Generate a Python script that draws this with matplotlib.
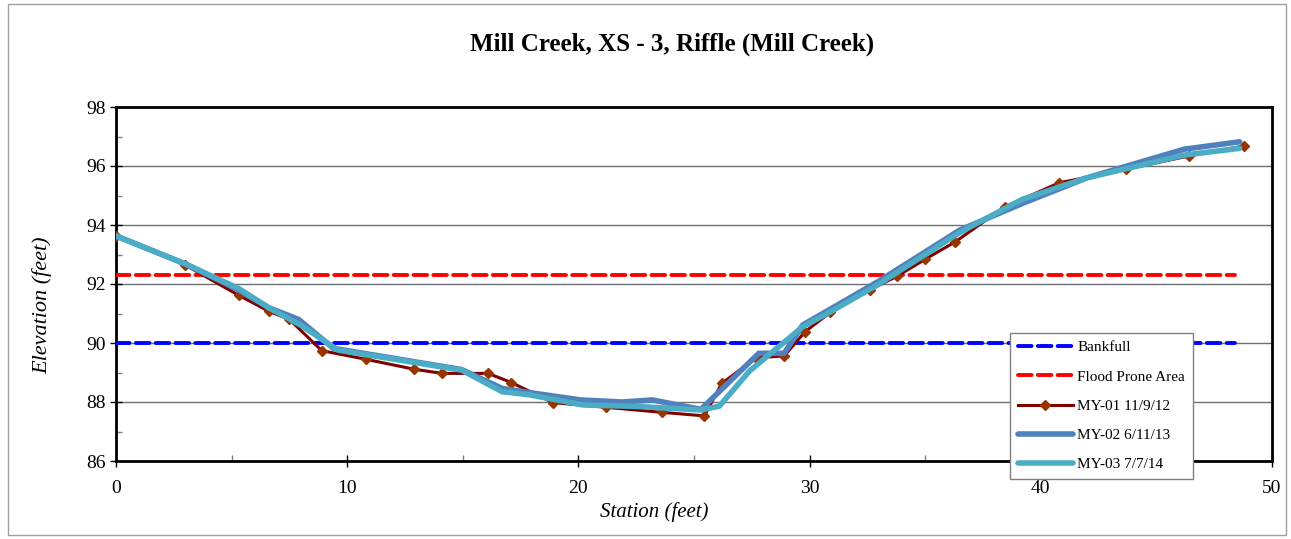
import matplotlib
matplotlib.use("Agg")
import matplotlib.pyplot as plt
from matplotlib.ticker import MultipleLocator
from matplotlib.patches import Rectangle

title = "Mill Creek, XS - 3, Riffle (Mill Creek)"
xlabel = "Station (feet)"
ylabel = "Elevation (feet)"

bankfull_x = [0, 48.4]
bankfull_y = [90.0, 90.0]
flood_x = [0, 48.4]
flood_y = [92.3, 92.3]

my01_x = [0, 3.0, 5.3, 6.6, 7.5, 8.9, 10.8, 12.9, 14.1, 16.1, 17.1, 18.9, 21.2, 23.6,
          25.45, 26.2, 27.7, 28.9, 29.8, 30.9, 32.6, 33.8, 35.0, 36.3, 38.45, 40.8, 43.7, 46.4, 48.8]
my01_y = [93.63, 92.64, 91.62, 91.08, 90.8, 89.74, 89.45, 89.11, 88.97, 88.97, 88.66, 87.98, 87.82, 87.65,
          87.53, 88.63, 89.5, 89.56, 90.38, 91.04, 91.8, 92.27, 92.84, 93.43, 94.62, 95.43, 95.89, 96.34, 96.68]

my02_x = [0, 3.0, 5.3, 6.6, 7.9, 9.4, 14.95, 16.7, 18.05, 20.1, 21.9, 23.2, 25.3, 27.8, 28.9, 29.7,
          30.9, 33.0, 36.5, 39.2, 42.0, 46.2, 48.6]
my02_y = [93.63, 92.68, 91.8, 91.2, 90.8, 89.82, 89.1, 88.46, 88.3, 88.07, 88.0, 88.07, 87.75, 89.65,
          89.65, 90.61, 91.15, 92.1, 93.83, 94.73, 95.6, 96.57, 96.82]

my03_x = [0, 3.0, 5.3, 6.6, 8.0, 9.6, 14.95, 16.7, 17.9, 20.2, 22.5, 25.3, 26.1, 27.4, 29.7, 31.0,
          33.0, 36.5, 39.2, 41.9, 46.2, 48.6]
my03_y = [93.63, 92.68, 91.85, 91.2, 90.6, 89.76, 89.08, 88.35, 88.24, 87.9, 87.85, 87.73, 87.86, 89.05,
          90.55, 91.1, 92.0, 93.75, 94.87, 95.58, 96.37, 96.6]

labels = ["Bankfull", "Flood Prone Area", "MY-01 11/9/12", "MY-02 6/11/13", "MY-03 7/7/14"]

plt.rcParams['font.family'] = ['Liberation Serif', 'DejaVu Serif']

fig = plt.figure(figsize=(12.91, 5.39), dpi=100)
fig.patches.append(Rectangle((0.006, 0.008), 0.99, 0.985, transform=fig.transFigure,
                             fill=False, edgecolor='#a0a0a0', linewidth=1.0))
ax = fig.add_axes([116/1291, 1 - 461/539, (1272 - 116)/1291, (461 - 107)/539])

ax.set_xlim(0, 50)
ax.set_ylim(86, 98)
ax.yaxis.set_major_locator(MultipleLocator(2))
ax.yaxis.set_minor_locator(MultipleLocator(1))
ax.xaxis.set_major_locator(MultipleLocator(10))
ax.xaxis.set_minor_locator(MultipleLocator(5))
ax.grid(axis='y', which='major', color='#707070', linewidth=1.0)
ax.set_axisbelow(True)

ax.plot(bankfull_x, bankfull_y, color='#0000FF', linewidth=2.8, dashes=(3.5, 1.6),
        dash_capstyle='round', label=labels[0], zorder=3)
ax.plot(flood_x, flood_y, color='#FF0000', linewidth=2.8, dashes=(3.5, 1.6),
        dash_capstyle='round', label=labels[1], zorder=3)
ax.plot(my01_x, my01_y, color='#800000', linewidth=2.2, marker='D', markersize=5,
        markerfacecolor='#993300', markeredgecolor='#993300', label=labels[2], zorder=4)
ax.plot(my02_x, my02_y, color='#4F81BD', linewidth=4.0, solid_capstyle='round',
        label=labels[3], zorder=5)
ax.plot(my03_x, my03_y, color='#4BACC6', linewidth=4.0, solid_capstyle='round',
        label=labels[4], zorder=6)

for s in ax.spines.values():
    s.set_linewidth(2.0)
    s.set_color('black')

ax.tick_params(axis='both', which='major', direction='inout', length=8, width=1.0,
               labelsize=14, colors='black')
ax.tick_params(axis='both', which='minor', direction='in', length=4, width=1.0, color='#808080')
ax.tick_params(axis='x', which='major', pad=10)

ax.set_xlabel(xlabel, fontsize=15, style='italic')
ax.xaxis.set_label_coords((654 - 116) / 1156, -0.115)
ax.set_ylabel(ylabel, fontsize=16, style='italic')
ax.yaxis.set_label_coords(-0.055, 0.44)
fig.text(470/1291, 1 - 44/539, title, ha='left', va='center', fontsize=18, fontweight='bold')

leg = ax.legend(loc='upper left', bbox_to_anchor=(1010/1291, 1 - 333/539),
                bbox_transform=fig.transFigure, fontsize=11, frameon=True, fancybox=False,
                edgecolor='#808080', framealpha=1.0, handlelength=3.6, labelspacing=1.02,
                borderpad=0.5, handletextpad=0.3, borderaxespad=0)
leg.get_frame().set_linewidth(1.0)
leg.set_zorder(10)
leg.set_clip_on(False)

fig.savefig("out.png", dpi=100)
